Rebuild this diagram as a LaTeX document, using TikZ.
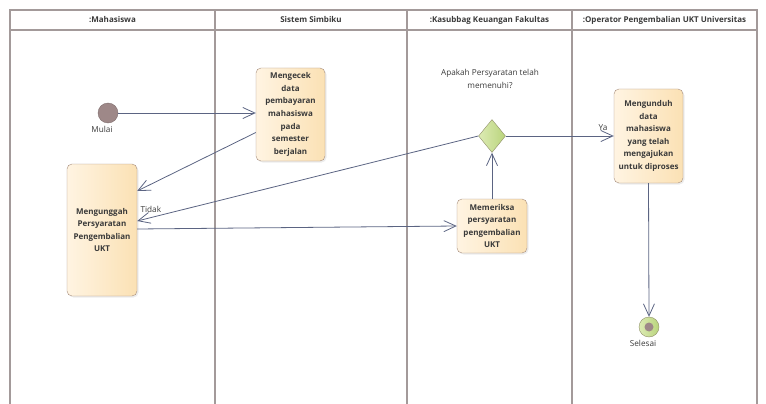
\documentclass[tikz,border=0pt]{standalone}
\usepackage{fontspec}
\setmainfont{Open Sans}
\usetikzlibrary{arrows.meta,shapes.geometric,shadows,calc}
\definecolor{lanec}{HTML}{A39A9A}
\definecolor{linec}{HTML}{5B6482}
\definecolor{boxL}{HTML}{FFF4E2}
\definecolor{boxR}{HTML}{FBE1B4}
\definecolor{boxB}{HTML}{A68C7C}
\definecolor{txtc}{HTML}{3A3A3A}
\definecolor{decL}{HTML}{DDEBB4}
\definecolor{decR}{HTML}{B9D47C}
\definecolor{decB}{HTML}{8F8F68}
\definecolor{startc}{HTML}{9E8888}
\begin{document}
\begin{tikzpicture}[x=1pt,y=-1pt,
  lane/.style={draw=lanec,line width=1.2pt},
  hdr/.style={font=\fontsize{8}{9}\selectfont\bfseries,text=txtc},
  act/.style={draw=boxB,rounded corners=5pt,left color=boxL,right color=boxR,
    align=center,font=\fontsize{8}{12.6}\selectfont\bfseries,text=txtc,
    inner sep=0pt,drop shadow={opacity=0.15,shadow xshift=1.5pt,shadow yshift=-1.5pt}},
  dec/.style={diamond,draw=decB,left color=decL,right color=decR,inner sep=0pt,
    minimum width=27pt,minimum height=33pt,aspect=0.82},
  flow/.style={draw=linec,line width=0.8pt,-{Straight Barb[length=12pt,width=11pt,line width=0.8pt]}},
  lbl/.style={font=\fontsize{8.2}{12.5}\selectfont,text=txtc}
]
\useasboundingbox (0,0) rectangle (766,404);
% swimlanes
\foreach \xa/\xb/\t [count=\i] in {10/215/{:Mahasiswa},215/407/{Sistem Simbiku},407/572/{:Kasubbag Keuangan Fakultas},572/757/{:Operator Pengembalian UKT Universitas}}{
  \draw[lane] (\xa,404) -- (\xa,10) -- (\xb,10) -- (\xb,404);
  \draw[lane] (\xa,30) -- (\xb,30);
  \node[hdr] (h\i) at ({(\xa+\xb)/2},20) {\t};
}
% nodes
\node[circle,fill=startc,draw=startc!80!black,minimum size=20pt,inner sep=0pt] (start) at (108,113) {};
\node[lbl,anchor=north] (mulai) at (102,123) {Mulai};
\node[act,minimum width=69pt,minimum height=93pt] (cek) at (290.5,114.5)
  {Mengecek\\data\\pembayaran\\mahasiswa\\pada\\semester\\berjalan};
\node[act,minimum width=70pt,minimum height=132pt] (unggah) at (102,230)
  {Mengunggah\\Persyaratan\\Pengembalian\\UKT};
\node[act,minimum width=70pt,minimum height=54pt] (periksa) at (492,226)
  {Memeriksa\\persyaratan\\pengembalian\\UKT};
\node[dec] (d) at (492,136) {};
\node[lbl,align=center] (q) at (490,79) {Apakah Persyaratan telah\\memenuhi?};
\node[act,minimum width=69pt,minimum height=94pt] (unduh) at (648.5,136)
  {Mengunduh\\data\\mahasiswa\\yang telah\\mengajukan\\untuk diproses};
\node[circle,draw=decB,left color=decL,right color=decR,minimum size=20pt,inner sep=0pt] (end) at (649,327) {};
\node[circle,fill=startc,minimum size=9pt,inner sep=0pt] (endin) at (end) {};
\node[lbl,anchor=north] (selesai) at (643,337) {Selesai};
% connectors
\draw[flow] (start.east) -- (start -| cek.west);
\draw[flow] ([yshift=-18pt]cek.west) -- ([yshift=39pt]unggah.east);
\draw[flow] (d.west) -- ([yshift=9pt]unggah.east) node[lbl,pos=0.96,above=1pt] (tidak) {Tidak};
\draw[flow] ([yshift=1pt]unggah.east) -- (periksa.west);
\draw[flow] (periksa.north) -- (d.south);
\draw[flow] (d.east) -- (d -| unduh.west) node[lbl,pos=0.9,above=2pt] (ya) {Ya};
\draw[flow] (unduh.south) -- (end.north);
\end{tikzpicture}
\end{document}
